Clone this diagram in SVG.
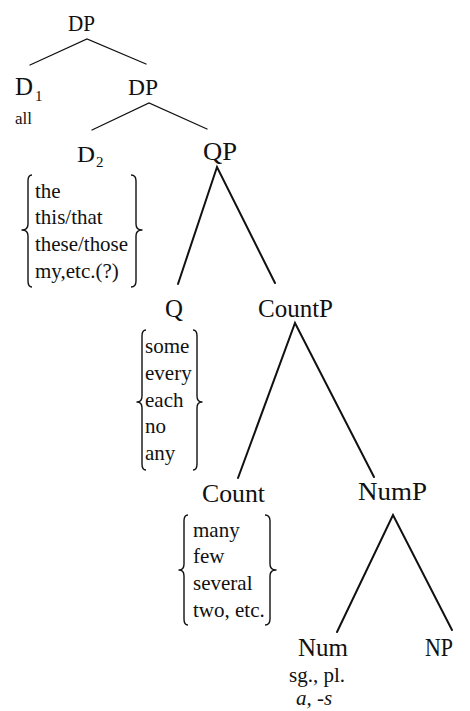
<svg xmlns="http://www.w3.org/2000/svg" width="470" height="711" viewBox="0 0 470 711">
  <style>
    text { font-family: "Liberation Serif", "Times New Roman", serif; fill: #111; }
    .node { font-size: 25px; }
    .small { font-size: 23px; }
    .sub { font-size: 15px; }
    .item { font-size: 21px; }
    .lex { font-size: 17px; }
    .edge { stroke: #111; fill: none; stroke-linecap: round; }
    .thin { stroke-width: 1.3; }
    .thick { stroke-width: 2; }
    .brace { stroke: #111; fill: none; stroke-width: 1.4; stroke-linejoin: round; }
  </style>

  <!-- tree branches -->
  <g id="connectors">
    <path class="edge thin" d="M30,65 L87,39 L146,64"/>
    <path class="edge thin" d="M92,130 L149,103 L207,129"/>
    <path class="edge thick" d="M178,284 L217,167 L275,283"/>
    <path class="edge thick" d="M238,478 L295,323 L374,477"/>
    <path class="edge thick" d="M337,632 L393,515 L452,630"/>
  </g>

  <g id="dp-top">
    <text class="small" x="68" y="31" textLength="27" lengthAdjust="spacingAndGlyphs">DP</text>
  </g>

  <g id="d1">
    <text class="node" x="15" y="95" textLength="18" lengthAdjust="spacingAndGlyphs">D</text>
    <text class="sub" x="35" y="101">1</text>
    <text class="lex" x="15" y="124">all</text>
  </g>

  <g id="dp-inner">
    <text class="small" x="128" y="95" textLength="30" lengthAdjust="spacingAndGlyphs">DP</text>
  </g>

  <g id="d2">
    <text class="small" x="77" y="162" textLength="18" lengthAdjust="spacingAndGlyphs">D</text>
    <text class="sub" x="96" y="167">2</text>
    <path class="brace" d="M32,175 Q28,175 28,181 L28,224 Q28,230 22,230 Q28,230 28,236 L28,281 Q28,287 32,287"/>
    <path class="brace" d="M131,175 Q136,175 136,181 L136,224 Q136,230 142,230 Q136,230 136,236 L136,281 Q136,287 131,287"/>
    <text class="item" x="35" y="198">the</text>
    <text class="item" x="35" y="224">this/that</text>
    <text class="item" x="35" y="251" textLength="93" lengthAdjust="spacingAndGlyphs">these/those</text>
    <text class="item" x="35" y="278">my,etc.(?)</text>
  </g>

  <g id="qp">
    <text class="node" x="203" y="160" textLength="34" lengthAdjust="spacingAndGlyphs">QP</text>
  </g>

  <g id="q">
    <text class="node" x="165" y="317" textLength="18" lengthAdjust="spacingAndGlyphs">Q</text>
    <path class="brace" d="M146,330 Q142,330 142,336 L142,396 Q142,402 137,402 Q142,402 142,408 L142,464 Q142,470 146,470"/>
    <path class="brace" d="M193,330 Q197,330 197,336 L197,396 Q197,402 202,402 Q197,402 197,408 L197,464 Q197,470 193,470"/>
    <text class="item" x="145" y="353">some</text>
    <text class="item" x="145" y="380">every</text>
    <text class="item" x="145" y="407">each</text>
    <text class="item" x="145" y="433">no</text>
    <text class="item" x="145" y="460">any</text>
  </g>

  <g id="countp">
    <text class="node" x="258" y="317" textLength="75" lengthAdjust="spacingAndGlyphs">CountP</text>
  </g>

  <g id="count">
    <text class="node" x="202" y="502" textLength="63" lengthAdjust="spacingAndGlyphs">Count</text>
    <path class="brace" d="M188,515 Q184,515 184,521 L184,564 Q184,570 179,570 Q184,570 184,576 L184,619 Q184,625 188,625"/>
    <path class="brace" d="M265,515 Q270,515 270,521 L270,564 Q270,570 276,570 Q270,570 270,576 L270,619 Q270,625 265,625"/>
    <text class="item" x="193" y="537">many</text>
    <text class="item" x="193" y="563">few</text>
    <text class="item" x="193" y="590">several</text>
    <text class="item" x="193" y="617">two, etc.</text>
  </g>

  <g id="nump">
    <text class="node" x="358" y="500" textLength="69" lengthAdjust="spacingAndGlyphs">NumP</text>
  </g>

  <g id="num">
    <text class="node" x="298" y="656" textLength="50" lengthAdjust="spacingAndGlyphs">Num</text>
    <text class="item" x="289" y="682" font-size="19">sg., pl.</text>
    <text class="item" x="296" y="705" font-size="19" font-style="italic">a, -s</text>
  </g>

  <g id="np">
    <text class="node" x="425" y="656" textLength="28" lengthAdjust="spacingAndGlyphs">NP</text>
  </g>
</svg>
